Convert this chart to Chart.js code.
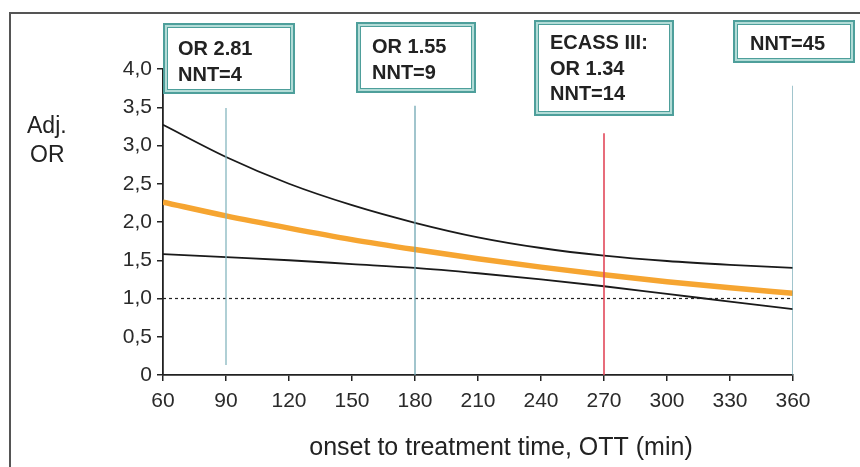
<!DOCTYPE html>
<html lang="en">
<head>
    <meta charset="UTF-8">
    <title>Adjusted OR by onset to treatment time</title>
    <script src="https://cdn.jsdelivr.net/npm/chart.js"></script>
    <style>
        html, body { margin: 0; padding: 0; background: #fff; }
        #wrap { width: 860px; height: 467px; }
    </style>
</head>
<body>
    <div id="wrap">
        <canvas id="ottChart" width="860" height="467"></canvas>
    </div>
    <script>
        // minutes from onset
        const ottMinutes = [60, 90, 120, 150, 180, 210, 240, 270, 300, 330, 360];

        // adjusted odds ratio with its upper / lower bounds
        const orEstimate = [2.26, 2.08, 1.92, 1.77, 1.64, 1.52, 1.41, 1.31, 1.22, 1.14, 1.07];
        const orUpper    = [3.27, 2.85, 2.50, 2.22, 1.99, 1.80, 1.66, 1.56, 1.49, 1.44, 1.40];
        const orLower    = [1.58, 1.54, 1.50, 1.45, 1.40, 1.33, 1.25, 1.16, 1.06, 0.96, 0.86];

        // reference line at OR = 1
        const refLineX = [60, 360];
        const refLineY = [1, 1];

        // vertical markers: time, from, to
        const markerTimes  = [90, 180, 270, 360];
        const markerBottom = [0.13, 0, 0, 0];
        const markerTop    = [3.49, 3.52, 3.16, 3.78];
        const markerColors = ['#86b6bf', '#6fa6b2', '#e2485a', '#6fa6b2'];

        // annotation box texts
        const boxTexts = [
            ['OR 2.81', 'NNT=4'],
            ['OR 1.55', 'NNT=9'],
            ['ECASS III:', 'OR 1.34', 'NNT=14'],
            ['NNT=45']
        ];

        // box geometry (pixels)
        const boxRects = [
            { x: 163, y: 23, w: 132, h: 71, tx: 178, ty: 55 },
            { x: 356, y: 22, w: 120, h: 71, tx: 372, ty: 53 },
            { x: 534, y: 20, w: 140, h: 96, tx: 550, ty: 49 },
            { x: 733, y: 20, w: 122, h: 43, tx: 750, ty: 50 }
        ];

        const xTicks = [60, 90, 120, 150, 180, 210, 240, 270, 300, 330, 360];
        const yTicks = [0, 0.5, 1, 1.5, 2, 2.5, 3, 3.5, 4];

        function toPoints(xs, ys) {
            return xs.map((x, i) => ({ x: x, y: ys[i] }));
        }

        const datasets = [];

        markerTimes.forEach((t, i) => {
            datasets.push({
                data: [{ x: t, y: markerBottom[i] }, { x: t, y: markerTop[i] }],
                borderColor: markerColors[i],
                borderWidth: i === 2 ? 1.6 : 1.3,
                pointRadius: 0
            });
        });

        datasets.push({
            data: toPoints(refLineX, refLineY),
            borderColor: '#222',
            borderWidth: 1.2,
            borderDash: [3, 3],
            pointRadius: 0
        });

        datasets.push({
            data: toPoints(ottMinutes, orUpper),
            borderColor: '#1a1a1a',
            borderWidth: 1.8,
            cubicInterpolationMode: 'monotone',
            pointRadius: 0
        });
        datasets.push({
            data: toPoints(ottMinutes, orLower),
            borderColor: '#1a1a1a',
            borderWidth: 1.8,
            cubicInterpolationMode: 'monotone',
            pointRadius: 0
        });
        datasets.push({
            data: toPoints(ottMinutes, orEstimate),
            borderColor: '#f6a531',
            borderWidth: 5.5,
            cubicInterpolationMode: 'monotone',
            pointRadius: 0
        });

        const decorPlugin = {
            id: 'decor',
            afterDraw(chart) {
                const ctx = chart.ctx;
                ctx.save();

                // outer frame
                ctx.strokeStyle = '#555';
                ctx.lineWidth = 2;
                ctx.beginPath();
                ctx.moveTo(10, 467);
                ctx.lineTo(10, 13);
                ctx.lineTo(860, 13);
                ctx.stroke();

                // y title
                ctx.fillStyle = '#222';
                ctx.font = '23px "Liberation Sans", Arial, sans-serif';
                ctx.textAlign = 'left';
                ctx.textBaseline = 'alphabetic';
                ctx.fillText('Adj.', 27, 133);
                ctx.fillText('OR', 30, 162);

                // x title
                ctx.font = '25px "Liberation Sans", Arial, sans-serif';
                ctx.textAlign = 'center';
                ctx.fillText('onset to treatment time, OTT (min)', 501, 455);

                // annotation boxes
                boxRects.forEach((b, i) => {
                    ctx.fillStyle = '#fff';
                    ctx.fillRect(b.x, b.y, b.w, b.h);
                    ctx.fillStyle = '#b3dcd7';
                    ctx.fillRect(b.x, b.y, b.w, 5);
                    ctx.fillRect(b.x, b.y + b.h - 5, b.w, 5);
                    ctx.fillRect(b.x, b.y, 5, b.h);
                    ctx.fillRect(b.x + b.w - 5, b.y, 5, b.h);
                    ctx.strokeStyle = '#4e9f9b';
                    ctx.lineWidth = 2;
                    ctx.strokeRect(b.x + 1, b.y + 1, b.w - 2, b.h - 2);
                    ctx.lineWidth = 1;
                    ctx.strokeRect(b.x + 4.5, b.y + 4.5, b.w - 9, b.h - 9);

                    ctx.fillStyle = '#222';
                    ctx.font = 'bold 20px "Liberation Sans", Arial, sans-serif';
                    ctx.textAlign = 'left';
                    boxTexts[i].forEach((line, j) => {
                        ctx.fillText(line, b.tx, b.ty + j * 25.5);
                    });
                });

                ctx.restore();
            }
        };

        const tickFont = { family: '"Liberation Sans", Arial, sans-serif', size: 21 };

        new Chart(document.getElementById('ottChart').getContext('2d'), {
            type: 'line',
            data: { datasets: datasets },
            plugins: [decorPlugin],
            options: {
                responsive: false,
                animation: false,
                events: [],
                layout: { padding: { top: 69, right: 67, left: 0, bottom: 0 } },
                plugins: {
                    legend: { display: false },
                    tooltip: { enabled: false }
                },
                scales: {
                    x: {
                        type: 'linear',
                        min: 60,
                        max: 360,
                        afterFit: s => { s.height = 92; },
                        afterBuildTicks: s => { s.ticks = xTicks.map(v => ({ value: v })); },
                        grid: { drawOnChartArea: false, tickLength: 6, color: '#222', lineWidth: 1.5 },
                        border: { color: '#222', width: 1.8 },
                        ticks: { font: tickFont, color: '#2a2a2a', padding: 8, maxRotation: 0 }
                    },
                    y: {
                        min: 0,
                        max: 4,
                        afterFit: s => { s.width = 163; },
                        afterBuildTicks: s => { s.ticks = yTicks.map(v => ({ value: v })); },
                        grid: { drawOnChartArea: false, tickLength: 6, color: '#222', lineWidth: 1.5 },
                        border: { color: '#222', width: 1.8 },
                        ticks: {
                            font: tickFont,
                            color: '#2a2a2a',
                            padding: 5,
                            callback: v => v === 0 ? '0' : v.toFixed(1).replace('.', ',')
                        }
                    }
                }
            }
        });
    </script>
</body>
</html>
